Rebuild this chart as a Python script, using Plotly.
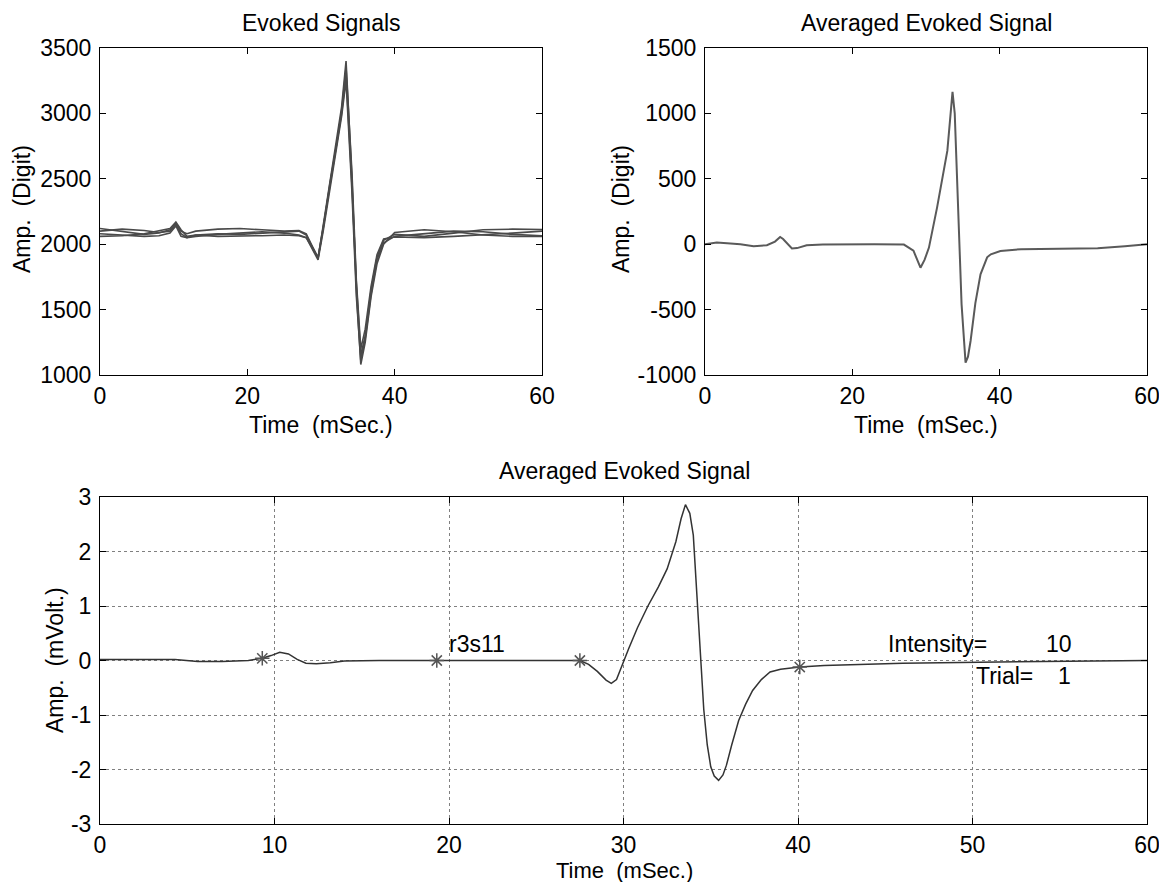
import plotly.graph_objects as go

# ---------------- data ----------------
time_raw = [0, 3, 6, 8, 9.5, 10.3, 11, 11.8, 13, 16, 19, 22, 25, 27, 28, 29.6,
            30.3, 31.2, 32.1, 32.8, 33.4, 34.2, 34.8, 35.4, 36, 36.8, 37.6, 38.5,
            40, 44, 48, 52, 56, 60]
raw_trial_1 = [2120, 2100, 2075, 2085, 2110, 2160, 2100, 2080, 2100, 2115, 2120, 2110,
               2100, 2105, 2080, 1890, 2150, 2480, 2780, 3050, 3400, 2500, 1650, 1080,
               1250, 1600, 1850, 2000, 2090, 2110, 2095, 2070, 2060, 2060]
raw_trial_2 = [2100, 2115, 2105, 2090, 2100, 2150, 2080, 2050, 2070, 2080, 2075, 2085,
               2095, 2100, 2070, 1900, 2130, 2450, 2750, 3000, 3300, 2450, 1700, 1150,
               1300, 1650, 1900, 2030, 2075, 2060, 2085, 2110, 2115, 2112]
raw_trial_3 = [2080, 2070, 2060, 2065, 2085, 2140, 2060, 2050, 2060, 2075, 2085, 2095,
               2085, 2070, 2050, 1880, 2100, 2420, 2720, 2980, 3250, 2400, 1600, 1110,
               1280, 1620, 1880, 2010, 2060, 2080, 2100, 2095, 2075, 2065]
raw_trial_4 = [2060, 2065, 2080, 2100, 2120, 2170, 2110, 2060, 2070, 2060, 2060, 2065,
               2070, 2065, 2050, 1895, 2120, 2460, 2760, 3020, 3350, 2550, 1720, 1200,
               1350, 1680, 1920, 2040, 2055, 2050, 2060, 2070, 2085, 2100]

time_avg = [0, 1.6, 3, 4.8, 6.6, 8.4, 9.5, 10.2, 10.6, 11.2, 11.8, 12.5, 13.8, 16,
            19.3, 23, 27, 28.3, 29.25, 29.8, 30.4, 31.5, 32.9, 33.6, 33.9, 34.24,
            34.83, 35.37, 35.7, 36.05, 36.7, 37.4, 38.3, 38.8, 40.1, 42.9, 48, 53.3,
            57, 60]
avg_digit = [0, 13, 8, 0, -15, -8, 20, 55, 40, 0, -33, -30, -8, -3,
             0, 0, -3, -50, -180, -120, -26, 280, 715, 1165, 1000, 430,
             -460, -905, -860, -740, -450, -230, -100, -77, -52, -38, -33, -31,
             -15, 0]

time_mv = [0, 2, 4.3, 5.6, 7, 8.5, 9.3, 9.8, 10.3, 10.8, 11.3, 11.8, 12.4, 13.2, 14,
           16, 18, 19.3, 21, 23, 25, 27, 27.5, 28.0, 28.5, 29.0, 29.3, 29.6, 29.9,
           30.3, 30.8, 31.4, 32.0, 32.5, 33.0, 33.3, 33.55, 33.8, 34.0, 34.2, 34.4,
           34.6, 34.8, 35.0, 35.2, 35.45, 35.7, 35.9, 36.2, 36.6, 37.0, 37.4, 37.9,
           38.4, 39.0, 40.1, 41.5, 43.5, 46, 50.4, 55, 60]
avg_mvolt = [0.02, 0.02, 0.02, -0.02, -0.02, 0.0, 0.04, 0.09, 0.15, 0.12, 0.02, -0.05,
             -0.06, -0.04, -0.01, 0.0, 0.0, 0.0, 0.01, 0.01, 0.01, 0.01, 0.0, -0.07,
             -0.2, -0.36, -0.42, -0.35, -0.1, 0.22, 0.6, 1.0, 1.35, 1.68, 2.18, 2.6,
             2.86, 2.7, 2.3, 1.3, 0.2, -0.9, -1.55, -1.95, -2.12, -2.2, -2.1, -1.92,
             -1.55, -1.1, -0.8, -0.55, -0.35, -0.21, -0.16, -0.12, -0.09, -0.07, -0.05,
             -0.03, -0.01, 0.0]

marker_time = [9.3, 19.3, 27.5, 40.1]
marker_mvolt = [0.04, 0.0, 0.0, -0.12]

x_ticks_top = [0, 20, 40, 60]
y_ticks_raw = [1000, 1500, 2000, 2500, 3000, 3500]
y_ticks_avg = [-1000, -500, 0, 500, 1000, 1500]
x_ticks_bottom = [0, 10, 20, 30, 40, 50, 60]
y_ticks_mv = [-3, -2, -1, 0, 1, 2, 3]

# ---------------- figure ----------------
W, H = 1159, 882
FONT = "Liberation Sans, Arial, Helvetica, sans-serif"
FS = 23


def fx(p):
    return p / W


def fy(p):
    return 1 - p / H


fig = go.Figure()

for tr in (raw_trial_1, raw_trial_2, raw_trial_3, raw_trial_4):
    fig.add_trace(go.Scatter(x=time_raw, y=tr, mode="lines",
                             line=dict(color="#4a4a4a", width=1.6),
                             xaxis="x", yaxis="y", showlegend=False, hoverinfo="skip"))

fig.add_trace(go.Scatter(x=time_avg, y=avg_digit, mode="lines",
                         line=dict(color="#5a5a5a", width=2),
                         xaxis="x2", yaxis="y2", showlegend=False, hoverinfo="skip"))

fig.add_trace(go.Scatter(x=time_mv, y=avg_mvolt, mode="lines",
                         line=dict(color="#333333", width=1.5),
                         xaxis="x3", yaxis="y3", showlegend=False, hoverinfo="skip"))

fig.add_trace(go.Scatter(x=marker_time, y=marker_mvolt, mode="markers",
                         marker=dict(symbol="asterisk-open", size=12, color="#555555",
                                     line=dict(color="#555555", width=1.5)),
                         xaxis="x3", yaxis="y3", showlegend=False, hoverinfo="skip"))


def axis(vals, grid=False, standoff=3, **kw):
    d = dict(showline=True, linecolor="black", linewidth=1, mirror="ticks",
             ticks="inside", ticklen=6, tickwidth=1, tickcolor="black",
             zeroline=False, fixedrange=True, ticklabelstandoff=standoff,
             ticklabeloverflow="allow",
             tickvals=vals, ticktext=[str(v) for v in vals],
             tickfont=dict(family=FONT, size=FS, color="black"))
    if grid:
        d.update(showgrid=True, gridcolor="#808080", gridwidth=1, griddash="dot")
    else:
        d.update(showgrid=False)
    d.update(kw)
    return d


fig.update_layout(
    width=W, height=H, autosize=False,
    margin=dict(l=0, r=0, t=0, b=0, autoexpand=False),
    paper_bgcolor="white", plot_bgcolor="white",
    showlegend=False,
    xaxis=axis(x_ticks_top, standoff=0, domain=[fx(100), fx(542)], range=[0, 60],
               anchor="y"),
    yaxis=axis(y_ticks_raw, domain=[fy(375), fy(48)], range=[1000, 3500], anchor="x"),
    xaxis2=axis(x_ticks_top, standoff=0, domain=[fx(705), fx(1147)], range=[0, 60],
                anchor="y2"),
    yaxis2=axis(y_ticks_avg, domain=[fy(375), fy(48)], range=[-1000, 1500], anchor="x2"),
    xaxis3=axis(x_ticks_bottom, grid=True, standoff=0, domain=[fx(100), fx(1147)],
                range=[0, 60], anchor="y3"),
    yaxis3=axis(y_ticks_mv, grid=True, domain=[fy(824), fy(497)], range=[-3, 3],
                anchor="x3"),
)

NB = "\u00a0"
annots = [
    ("Evoked Signals", 321, 23, 0, FS),
    ("Averaged Evoked Signal", 926, 23, 0, FS),
    ("Averaged Evoked Signal", 624, 471, 0, FS),
    ("Time" + NB + NB + "(mSec.)", 321, 425, 0, FS),
    ("Time" + NB + NB + "(mSec.)", 926, 425, 0, FS),
    ("Time" + NB + NB + "(mSec.)", 624, 870, 0, 22),
    ("Amp." + NB + NB + "(Digit)", 22, 209, -90, FS),
    ("Amp." + NB + NB + "(Digit)", 621, 209, -90, FS),
    ("Amp." + NB + NB + "(mVolt.)", 55, 660, -90, FS),
]
for text, px_, py_, ang, fs in annots:
    fig.add_annotation(text=text, x=fx(px_), y=fy(py_), xref="paper", yref="paper",
                       xanchor="center", yanchor="middle", textangle=ang,
                       showarrow=False, font=dict(family=FONT, size=fs, color="black"))

label_text = ["r3s11", "Intensity=", "10", "Trial=", "1"]
label_time = [19.9, 45.05, 54.1, 50.06, 54.8]
label_mvolt = [0.31, 0.31, 0.31, -0.29, -0.29]
for t, xx, yy in zip(label_text, label_time, label_mvolt):
    fig.add_annotation(text=t, x=xx, y=yy, xref="x3", yref="y3",
                       xanchor="left", yanchor="middle", showarrow=False,
                       font=dict(family=FONT, size=FS, color="black"))

fig.write_html(
    "out.html",
    config={"displayModeBar": False},
    post_script="document.body.style.margin='0';document.body.style.overflow='hidden';",
)
